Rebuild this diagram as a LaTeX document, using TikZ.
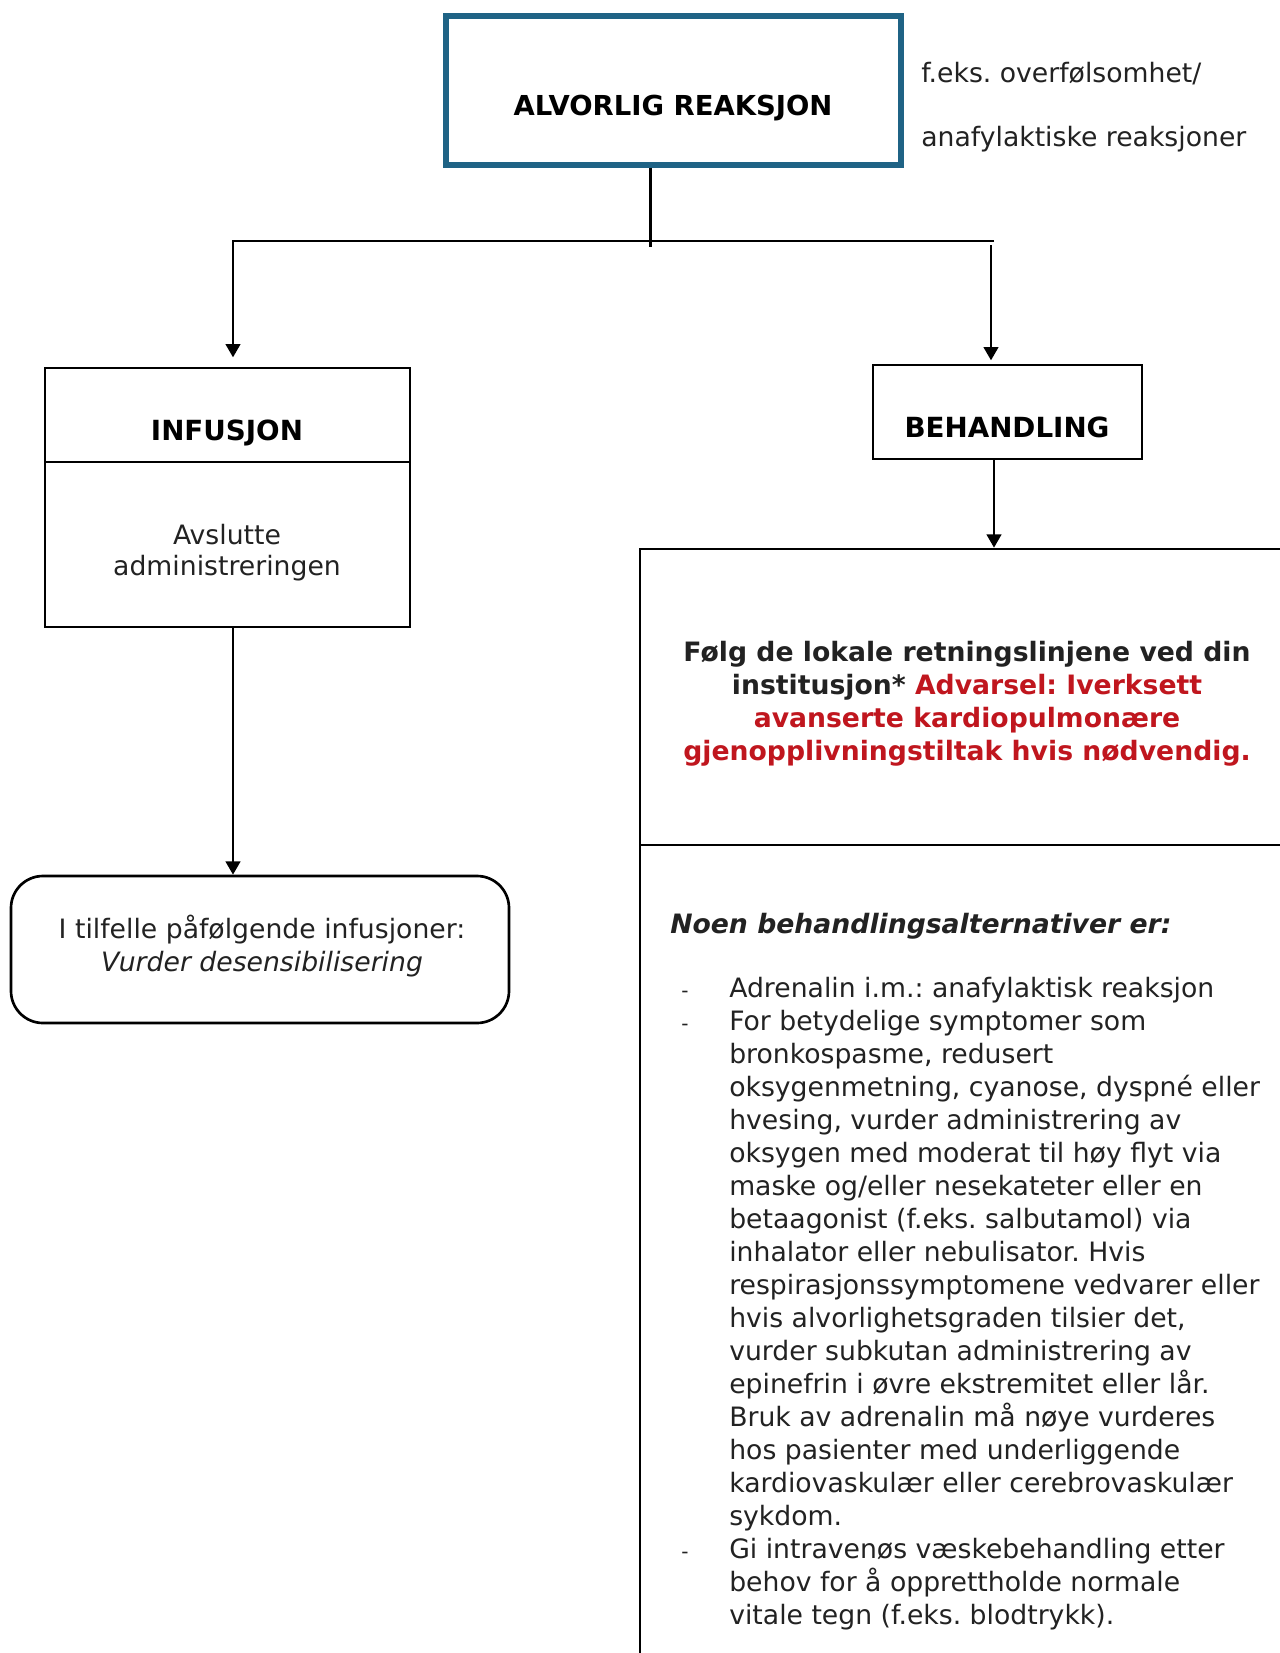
\documentclass[tikz,border=0pt]{standalone}
\usepackage{fontspec}
\setmainfont{DejaVu Sans}
\usetikzlibrary{arrows.meta}
\definecolor{frameblue}{RGB}{31,99,133}
\definecolor{warnred}{RGB}{192,22,30}
\definecolor{txt}{RGB}{34,34,34}
\newcommand\mydash{\makebox[36pt][l]{\fontsize{15}{15}\selectfont -}}
\newcommand\myind{\hspace*{36pt}}
\frenchspacing
\begin{document}
\begin{tikzpicture}[x=0.75pt,y=-0.75pt,
  boxs/.style={draw, line width=2pt, inner sep=0},
  conn/.style={line width=1.8pt},
  arr/.style={conn, -{Triangle[width=11pt,length=10pt]}},
  lbl/.style={inner sep=0, anchor=base, text=txt, font=\fontsize{20}{24.75}\selectfont},
  hdr/.style={inner sep=0, anchor=base, text=black, font=\fontsize{20.8}{25}\selectfont\bfseries}]
\useasboundingbox (0,0) rectangle (1280,1653);
\clip (0,0) rectangle (1280,1653);
\fill[white] (0,0) rectangle (1280,1653);

% top box
\node[draw=frameblue, line width=4pt, inner sep=0, minimum width=341.25pt, minimum height=111.75pt] (alv) at (673.5,90.5) {};
\node[hdr, font=\fontsize{20.6}{24}\selectfont\bfseries] (alvt) at (673,115) {ALVORLIG REAKSJON};
\node[lbl, anchor=base west] (ex1) at (921,82) {f.eks. overfølsomhet/};
\node[lbl, anchor=base west] (ex2) at (921,146) {anafylaktiske reaksjoner};

% infusjon
\node[boxs, minimum width=273.75pt, minimum height=70.5pt] (infuh) at (227.5,415) {};
\node[boxs, minimum width=273.75pt, minimum height=123.75pt] (infub) at (227.5,544.5) {};
\node[hdr] (infut) at (227,440) {INFUSJON};
\node[inner sep=0, anchor=base, text=txt] (avs) at (227,544) {\begin{minipage}[t]{300pt}\centering\fontsize{20}{23.25}\selectfont Avslutte\\administreringen\end{minipage}};

% rounded box
\node[boxs, rounded corners=24pt, minimum width=373.5pt, minimum height=110.25pt] (round) at (260,949.5) {};
\node[inner sep=0, anchor=base, text=txt] (roundt) at (262,938) {\begin{minipage}[t]{360pt}\centering\fontsize{20}{24.75}\selectfont I tilfelle påfølgende infusjoner:\\\textit{Vurder desensibilisering}\end{minipage}};

% behandling
\node[boxs, minimum width=201.75pt, minimum height=70.5pt] (beh) at (1007.5,412) {};
\node[hdr] (beht) at (1007,437) {BEHANDLING};

% big box
\node[boxs, minimum width=510pt, minimum height=222pt] (bigt) at (980,697) {};
\node[boxs, minimum width=510pt, minimum height=656.25pt] (bigb) at (980,1282.5) {};
\node[inner sep=0, anchor=base, text=txt] (warn) at (967,661) {\begin{minipage}[t]{480pt}\centering\fontsize{20}{24.75}\selectfont\bfseries
Følg de lokale retningslinjene ved din\\
institusjon* \textcolor{warnred}{Advarsel: Iverksett}\\
\textcolor{warnred}{avanserte kardiopulmonære}\\
\textcolor{warnred}{gjenopplivningstiltak hvis nødvendig.}\end{minipage}};
\node[inner sep=0, anchor=base west, text=txt, font=\fontsize{20}{24.75}\selectfont\bfseries\itshape] (noen) at (670,933) {Noen behandlingsalternativer er:};
\node[inner sep=0, anchor=base west, text=txt] (list) at (681,997) {\begin{minipage}[t]{450pt}\setlength{\parindent}{0pt}\fontsize{20}{24.75}\selectfont
\mydash Adrenalin i.m.: anafylaktisk reaksjon\\
\mydash For betydelige symptomer som\\
\myind bronkospasme, redusert\\
\myind oksygenmetning, cyanose, dyspné eller\\
\myind hvesing, vurder administrering av\\
\myind oksygen med moderat til høy flyt via\\
\myind maske og/eller nesekateter eller en\\
\myind betaagonist (f.eks. salbutamol) via\\
\myind inhalator eller nebulisator. Hvis\\
\myind respirasjonssymptomene vedvarer eller\\
\myind hvis alvorlighetsgraden tilsier det,\\
\myind vurder subkutan administrering av\\
\myind epinefrin i øvre ekstremitet eller lår.\\
\myind Bruk av adrenalin må nøye vurderes\\
\myind hos pasienter med underliggende\\
\myind kardiovaskulær eller cerebrovaskulær\\
\myind sykdom.\\
\mydash Gi intravenøs væskebehandling etter\\
\myind behov for å opprettholde normale\\
\myind vitale tegn (f.eks. blodtrykk).\end{minipage}};

% connectors
\coordinate (stemend) at (650.6,247);
\coordinate (jl) at (233,241);
\coordinate (jr) at (994,241);
\coordinate (jr2) at (991,245);
\draw[conn] (alv.south -| stemend) -- (stemend);
\draw[arr, shorten >=7pt] (jr) -- (jl) -- (jl |- infuh.north);
\draw[arr, shorten >=2.5pt] (jr2) -- (jr2 |- beh.north);
\draw[arr] (infub.south -| jl) -- (jl |- round.north);
\draw[arr] (beh.south -| jr) -- (jr |- bigt.north);
\end{tikzpicture}
\end{document}
